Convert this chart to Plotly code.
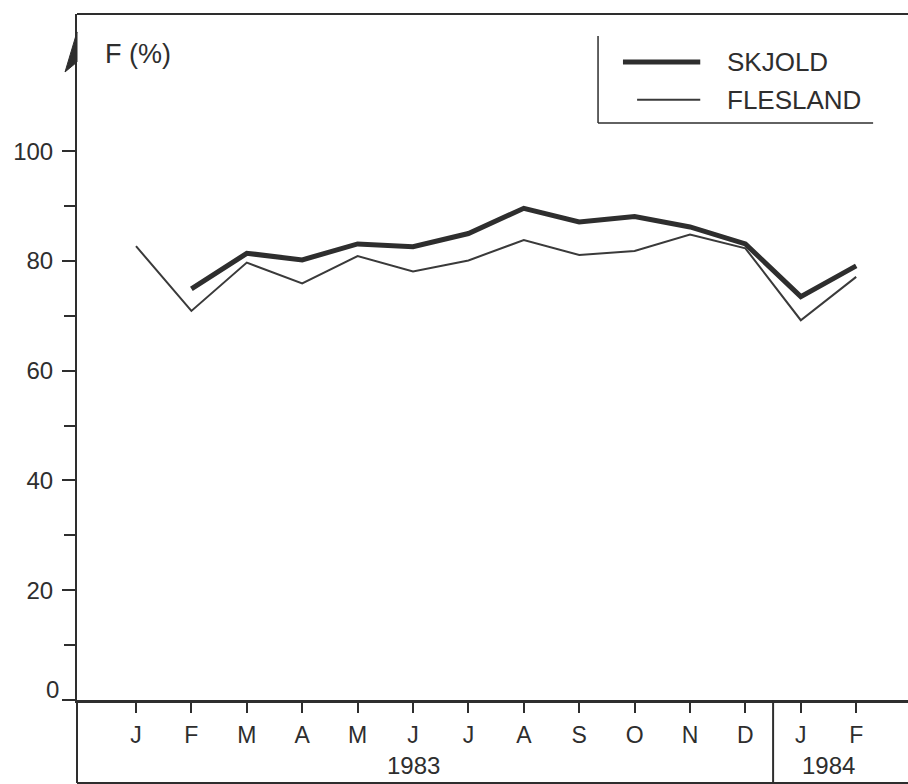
import plotly.graph_objects as go

months = ["J", "F", "M", "A", "M", "J", "J", "A", "S", "O", "N", "D", "J", "F"]
month_idx = list(range(len(months)))
years = ["1983", "1984"]
year_centers = [5.0, 12.5]

skjold = [None, 74.9, 81.4, 80.2, 83.1, 82.6, 85.0, 89.6, 87.1, 88.1, 86.2, 83.1, 73.5, 79.1]
flesland = [82.7, 70.9, 79.7, 75.9, 80.9, 78.1, 80.1, 83.8, 81.1, 81.8, 84.8, 82.3, 69.2, 77.1]

y_major = [0, 20, 40, 60, 80, 100]
y_labels = ["", "20", "40", "60", "80", "100"]
y_minor = [10, 30, 50, 70, 90]

INK = "#2e2e2e"
FONT = "Liberation Sans"

fig = go.Figure()
fig.add_trace(go.Scatter(x=month_idx, y=flesland, mode="lines", name="FLESLAND",
                         line=dict(color="#3a3a3a", width=2), showlegend=False))
fig.add_trace(go.Scatter(x=month_idx, y=skjold, mode="lines", name="SKJOLD",
                         line=dict(color=INK, width=5), showlegend=False, connectgaps=False))

fig.update_layout(
    width=908, height=784,
    margin=dict(l=77, r=0, t=14, b=84),
    paper_bgcolor="white", plot_bgcolor="white",
    font=dict(family=FONT, color=INK, size=23),
    xaxis=dict(range=[-1.065, 13.935], tickvals=month_idx, ticktext=months,
               ticks="outside", ticklen=10, tickwidth=2, tickcolor=INK,
               showline=True, linecolor=INK, linewidth=3, showgrid=False, zeroline=False,
               tickfont=dict(size=23, color=INK), ticklabelstandoff=2),
    yaxis=dict(range=[0, 125], tickvals=y_major, ticktext=y_labels,
               ticks="outside", ticklen=13, tickwidth=2, tickcolor=INK,
               showline=True, linecolor=INK, linewidth=2, showgrid=False, zeroline=False,
               tickfont=dict(size=24, color=INK), ticklabelstandoff=4,
               minor=dict(tickvals=y_minor, ticks="outside",
                          ticklen=11, tickwidth=2, tickcolor=INK)),
)

shapes = []
# top border
shapes.append(dict(type="line", xref="paper", yref="paper", x0=0, x1=1, y0=1, y1=1,
                   line=dict(color=INK, width=2)))
# bottom box
shapes.append(dict(type="line", xref="paper", yref="paper", x0=0, x1=1, y0=-0.121, y1=-0.121,
                   line=dict(color=INK, width=2)))
shapes.append(dict(type="line", xref="paper", yref="paper", x0=0, x1=0, y0=0, y1=-0.121,
                   line=dict(color=INK, width=2)))
shapes.append(dict(type="line", xref="x", yref="paper", x0=11.5, x1=11.5, y0=0, y1=-0.121,
                   line=dict(color=INK, width=2)))
# arrowhead on y axis
shapes.append(dict(type="path", xref="paper", yref="paper",
                   path="M 0,0.9738 L -0.0144,0.9155 L 0,0.930 Z",
                   fillcolor=INK, line=dict(color=INK, width=1)))
# legend frame
shapes.append(dict(type="line", xref="paper", yref="paper", x0=0.627, x1=0.627, y0=0.968, y1=0.841,
                   line=dict(color=INK, width=1.5)))
shapes.append(dict(type="line", xref="paper", yref="paper", x0=0.627, x1=0.958, y0=0.841, y1=0.841,
                   line=dict(color=INK, width=1.5)))
# legend samples
shapes.append(dict(type="line", xref="paper", yref="paper", x0=0.657, x1=0.750, y0=0.930, y1=0.930,
                   line=dict(color=INK, width=5)))
shapes.append(dict(type="line", xref="paper", yref="paper", x0=0.674, x1=0.750, y0=0.875, y1=0.875,
                   line=dict(color="#3a3a3a", width=2)))
fig.update_layout(shapes=shapes)

ann = []
ann.append(dict(text="SKJOLD", xref="paper", yref="paper", x=0.780, y=0.930,
                xanchor="left", yanchor="middle", showarrow=False, font=dict(size=26)))
ann.append(dict(text="FLESLAND", xref="paper", yref="paper", x=0.780, y=0.875,
                xanchor="left", yanchor="middle", showarrow=False, font=dict(size=26)))
ann.append(dict(text="F (%)", xref="paper", yref="paper", x=0.0313, y=0.9417,
                xanchor="left", yanchor="middle", showarrow=False, font=dict(size=27)))
ann.append(dict(text="0", xref="paper", yref="y", x=-0.019, y=0, xanchor="right",
                yanchor="bottom", showarrow=False, font=dict(size=24), yshift=-5))
for yr, xc in zip(years, year_centers):
    ann.append(dict(text=yr, xref="x", yref="paper", x=xc, y=-0.0948,
                    xanchor="center", yanchor="middle", showarrow=False, font=dict(size=24)))
fig.update_layout(annotations=ann)

fig.write_html("out.html")
